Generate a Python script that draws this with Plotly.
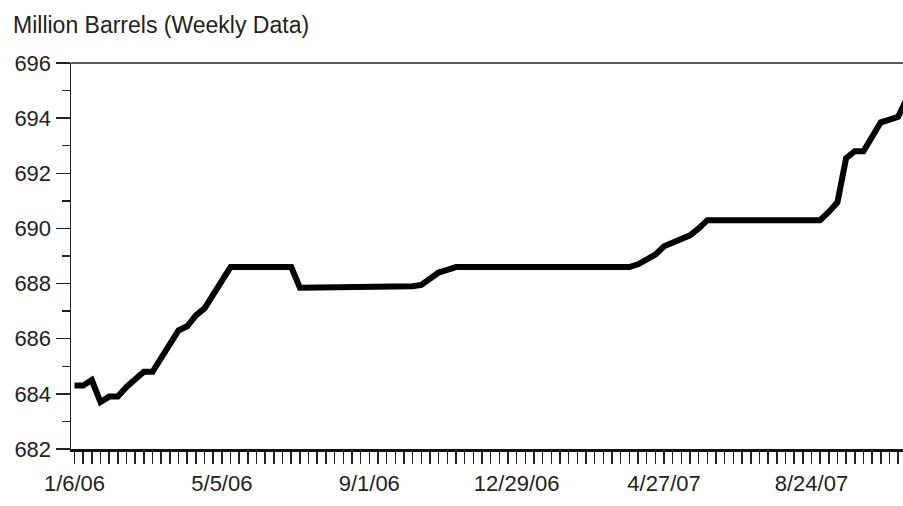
import pandas as pd
import plotly.graph_objects as go

# ---- data ----
START_DATE = "2006-01-06"
VALUES = [
    684.3, 684.3, 684.5, 683.7, 683.9, 683.9, 684.25, 684.55, 684.8, 684.8,
    685.3, 685.8, 686.3, 686.45, 686.85, 687.1, 687.6, 688.1, 688.6,
    688.6, 688.6, 688.6, 688.6, 688.6, 688.6, 688.6,
    687.85, 687.85, 687.85, 687.85, 687.85, 687.85, 687.85, 687.85, 687.85,
    687.85, 687.85, 687.85, 687.85,
    687.9, 687.95, 688.2, 688.4, 688.5, 688.6,
    688.6, 688.6, 688.6, 688.6, 688.6, 688.6, 688.6, 688.6, 688.6, 688.6,
    688.6, 688.6, 688.6, 688.6, 688.6, 688.6, 688.6, 688.6, 688.6, 688.6,
    688.7, 688.9, 689.05, 689.35, 689.5, 689.6, 689.75, 690.0, 690.3,
    690.3, 690.3, 690.3, 690.3, 690.3, 690.3, 690.3, 690.3, 690.3, 690.3,
    690.3, 690.3, 690.3,
    690.6, 690.95, 692.55, 692.8, 692.8, 693.3, 693.85, 693.95, 694.05, 694.7,
]
TICK_LABELS = ["1/6/06", "5/5/06", "9/1/06", "12/29/06", "4/27/07", "8/24/07"]
Y_TITLE = "Million Barrels (Weekly Data)"

dates = pd.date_range(START_DATE, periods=len(VALUES), freq="7D")
tick_vals = [pd.to_datetime(t, format="%m/%d/%y") for t in TICK_LABELS]

week = pd.Timedelta(days=7)
x_start = dates[0] - 0.4 * week
x_end = dates[0] + 95.56 * week

FONT = "Liberation Sans, Arial, sans-serif"
TXT = "#222222"

fig = go.Figure()
fig.add_trace(go.Scatter(
    x=dates, y=VALUES, mode="lines",
    line=dict(color="#000000", width=6),
    hoverinfo="skip", showlegend=False,
))

fig.update_layout(
    width=903, height=506,
    margin=dict(l=71, r=0, t=63, b=57),
    paper_bgcolor="white", plot_bgcolor="white",
    font=dict(family=FONT, size=22, color=TXT),
    title=dict(text=Y_TITLE, xref="container", yref="container",
               x=13 / 903, xanchor="left", y=1 - 25 / 506, yanchor="middle",
               font=dict(family=FONT, size=23, color=TXT)),
    showlegend=False,
)

fig.update_xaxes(
    type="date", range=[x_start, x_end],
    tickmode="array", tickvals=tick_vals, ticktext=TICK_LABELS,
    ticks="outside", ticklen=12, tickwidth=1.5, tickcolor="#222",
    ticklabelstandoff=1,
    minor=dict(tickmode="array", tickvals=list(dates), ticks="outside",
               ticklen=12, tickwidth=1.5, tickcolor="#222"),
    showline=True, linecolor="#111", linewidth=2.5,
    showgrid=False, zeroline=False,
    tickfont=dict(family=FONT, size=22, color=TXT),
)

fig.update_yaxes(
    range=[682, 696], tickmode="linear", tick0=682, dtick=2,
    ticks="outside", ticklen=14, tickwidth=1.5, tickcolor="#222",
    ticklabelstandoff=0,
    minor=dict(tickmode="linear", tick0=683, dtick=2, ticks="outside",
               ticklen=8, tickwidth=1.5, tickcolor="#222"),
    showline=True, linecolor="#222", linewidth=1.5,
    showgrid=False, zeroline=False,
    tickfont=dict(family=FONT, size=22, color=TXT),
)

# top border of the plot frame
fig.add_shape(type="line", xref="paper", yref="paper", x0=0, x1=1, y0=1, y1=1,
              line=dict(color="#222", width=1.5))

fig.write_html(
    "out.html",
    config={"displayModeBar": False, "staticPlot": True},
    post_script="document.body.style.margin='0';document.body.style.overflow='hidden';",
)
